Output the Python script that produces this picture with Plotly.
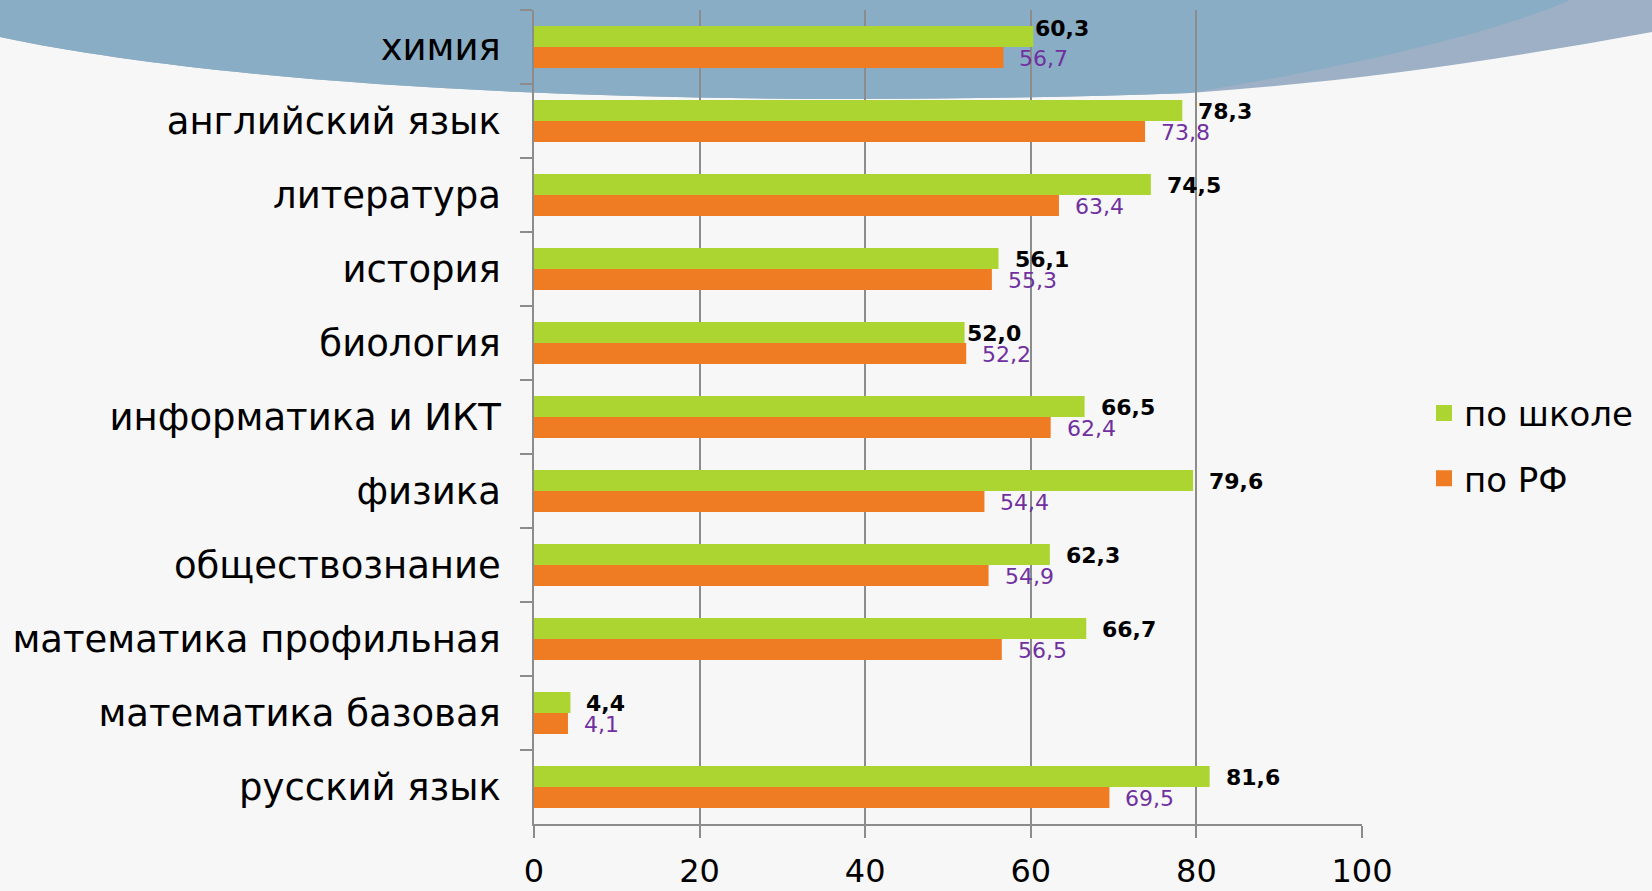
import plotly.graph_objects as go

# ---- data ----
subjects = ["химия", "английский язык", "литература", "история", "биология",
            "информатика и ИКТ", "физика", "обществознание",
            "математика профильная", "математика базовая", "русский язык"]
school = [60.3, 78.3, 74.5, 56.1, 52.0, 66.5, 79.6, 62.3, 66.7, 4.4, 81.6]
russia = [56.7, 73.8, 63.4, 55.3, 52.2, 62.4, 54.4, 54.9, 56.5, 4.1, 69.5]
series_names = ["по школе", "по РФ"]
x_ticks = [0, 20, 40, 60, 80, 100]

GREEN = "#acd532"
ORANGE = "#ef7b23"
PURPLE = "#7030a0"
GRID = "#8c8c8c"
FONT = "DejaVu Sans"

W, H = 1652, 891
L, R, T, B = 534, 290, 10, 67
PW, PH = W - L - R, H - T - B


def P(x, y):
    return f"{(x - L) / PW:.5f},{(H - B - y) / PH:.5f}"


def fmt(v):
    return f"{v:.1f}".replace(".", ",")


fig = go.Figure()
fig.add_trace(go.Bar(y=subjects, x=school, orientation="h", name=series_names[0],
                     marker=dict(color=GREEN, line=dict(width=0)), showlegend=False))
fig.add_trace(go.Bar(y=subjects, x=russia, orientation="h", name=series_names[1],
                     marker=dict(color=ORANGE, line=dict(width=0)), showlegend=False))
# legend entries
for nm, col, grp in [(series_names[0], GREEN, "a"), (series_names[1], ORANGE, "b")]:
    fig.add_trace(go.Scatter(x=[None], y=[None], mode="markers", name=nm, legendgroup=grp,
                             marker=dict(symbol="square", size=16, color=col)))

annotations = []
for i, (s, v1, v2) in enumerate(zip(subjects, school, russia)):
    special = s in ("химия", "биология")
    annotations.append(dict(x=v1, y=s, xref="x", yref="y", text=f"<b>{fmt(v1)}</b>",
                            showarrow=False, xanchor="left", yanchor="middle",
                            xshift=0 if special else 14, yshift=19 if s == "химия" else 10,
                            font=dict(family=FONT, size=22, color="black")))
    annotations.append(dict(x=v2, y=s, xref="x", yref="y", text=fmt(v2),
                            showarrow=False, xanchor="left", yanchor="middle",
                            xshift=14, yshift=-11,
                            font=dict(family=FONT, size=22, color=PURPLE)))

# decorative slide wave
seg1 = f"C {P(250,90)} {P(700,110)} {P(1190,93)}"
wave_outer = f"M {P(0,0)} L {P(0,37)} {seg1} C {P(1350,82)} {P(1500,60)} {P(1652,32)} L {P(1652,0)} Z"
wave_inner = f"M {P(0,0)} L {P(0,37)} {seg1} C {P(1300,75)} {P(1480,40)} {P(1570,0)} Z"
shapes = [
    dict(type="path", path=wave_outer, xref="paper", yref="paper", layer="below",
         fillcolor="#9db0c6", line=dict(width=0)),
    dict(type="path", path=wave_inner, xref="paper", yref="paper", layer="below",
         fillcolor="#89adc4", line=dict(width=0)),
]

fig.update_layout(
    width=W, height=H,
    margin=dict(l=L, r=R, t=T, b=B, autoexpand=False),
    paper_bgcolor="#f7f7f7", plot_bgcolor="rgba(0,0,0,0)",
    barmode="group", bargap=0.43, bargroupgap=0,
    font=dict(family=FONT, color="black"),
    shapes=shapes, annotations=annotations,
    xaxis=dict(range=[0, 100], tickvals=x_ticks, ticktext=[str(t) for t in x_ticks],
               showgrid=True, gridcolor=GRID, gridwidth=1.5,
               ticks="outside", ticklen=12, tickwidth=1.5, tickcolor=GRID,
               showline=True, linecolor=GRID, linewidth=1.5, zeroline=False,
               tickfont=dict(size=32, color="black"), ticklabelstandoff=6),
    yaxis=dict(autorange="reversed", type="category", tickson="boundaries",
               ticks="outside", ticklen=12, tickwidth=1.5, tickcolor=GRID,
               showline=True, linecolor=GRID, linewidth=1.5, showgrid=False,
               zeroline=False, tickfont=dict(size=37, color="black"),
               ticklabelstandoff=24),
    legend=dict(x=(1424 - L) / PW, xanchor="left", y=(H - B - 446) / PH, yanchor="middle",
                font=dict(size=34, color="black"), bgcolor="rgba(0,0,0,0)",
                tracegroupgap=18, itemwidth=30),
)

fig.write_html("out.html", config={"displayModeBar": False},
               post_script="document.body.style.margin='0';")
